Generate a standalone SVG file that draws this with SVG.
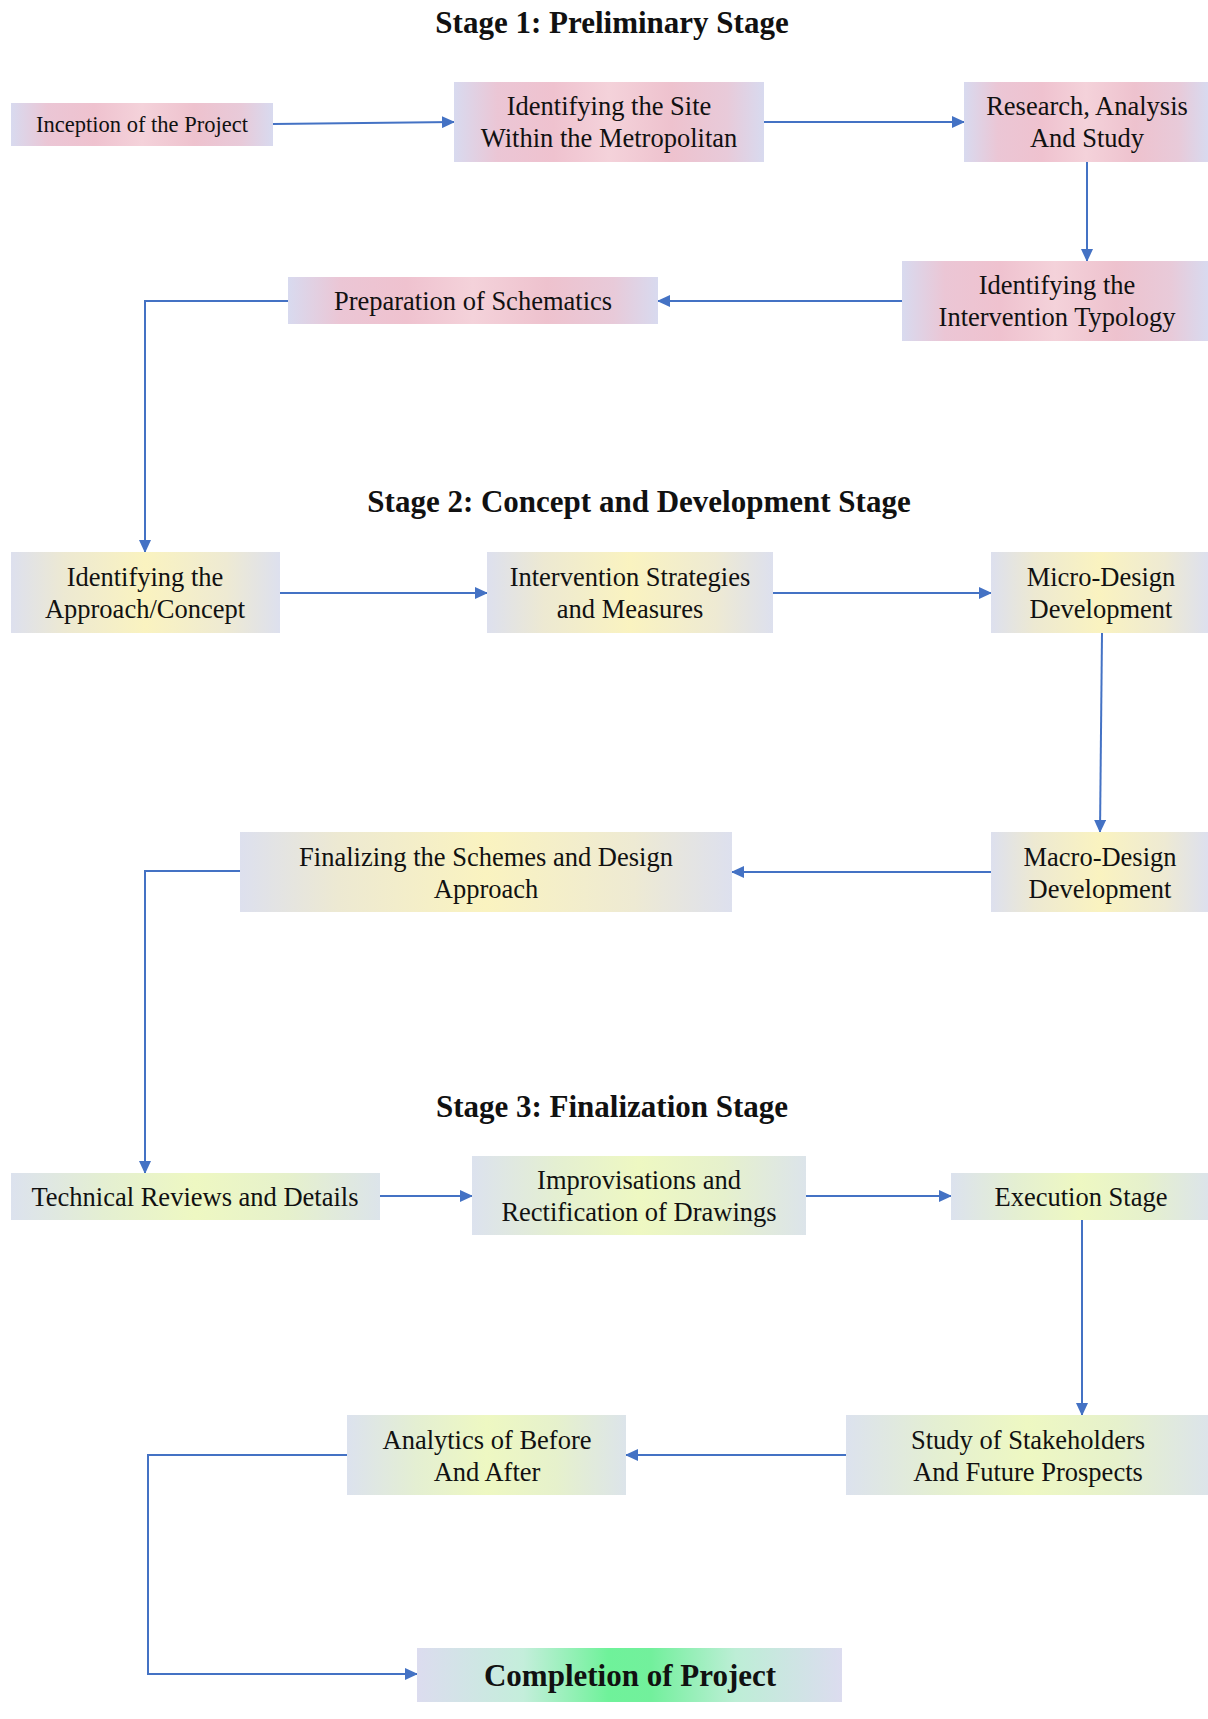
<svg xmlns="http://www.w3.org/2000/svg" width="1208" height="1719" viewBox="0 0 1208 1719">
<style>
text{font-family:"Liberation Serif","Times New Roman",serif;fill:#111;text-anchor:middle}
.t{font-size:26.5px}
.s{font-size:22.5px}
.h{font-size:31px;font-weight:bold}
.c{fill:none;stroke:#4472c4;stroke-width:2;marker-end:url(#ah)}
</style>
<defs>
<marker id="ah" markerUnits="userSpaceOnUse" markerWidth="13" markerHeight="12" refX="12" refY="6" orient="auto">
<path d="M0,0 L13,6 L0,12 Z" fill="#4472c4"/>
</marker>
<linearGradient id="pink" x1="0" y1="0" x2="1" y2="0">
<stop offset="0" stop-color="#d8daef"/>
<stop offset="0.14" stop-color="#ebc6d5"/>
<stop offset="0.32" stop-color="#efc2cf"/>
<stop offset="0.5" stop-color="#f4d2da"/>
<stop offset="0.7" stop-color="#eec2ce"/>
<stop offset="0.88" stop-color="#e8cad9"/>
<stop offset="1" stop-color="#d8daef"/>
</linearGradient>
<linearGradient id="yel" x1="0" y1="0" x2="1" y2="0">
<stop offset="0" stop-color="#dde0ee"/>
<stop offset="0.2" stop-color="#ede9d2"/>
<stop offset="0.5" stop-color="#faf3c0"/>
<stop offset="0.8" stop-color="#eeead3"/>
<stop offset="1" stop-color="#dde0ee"/>
</linearGradient>
<linearGradient id="grn" x1="0" y1="0" x2="1" y2="0">
<stop offset="0" stop-color="#dce2ee"/>
<stop offset="0.25" stop-color="#e4efd2"/>
<stop offset="0.5" stop-color="#eef8c2"/>
<stop offset="0.75" stop-color="#e6f1cc"/>
<stop offset="1" stop-color="#dce4ea"/>
</linearGradient>
<linearGradient id="cmp" x1="0" y1="0" x2="1" y2="0">
<stop offset="0" stop-color="#dcdcef"/>
<stop offset="0.25" stop-color="#c4eedb"/>
<stop offset="0.45" stop-color="#6ff29a"/>
<stop offset="0.55" stop-color="#72f09c"/>
<stop offset="0.75" stop-color="#bdeed6"/>
<stop offset="1" stop-color="#dcdcef"/>
</linearGradient>
</defs>
<rect width="1208" height="1719" fill="#fff"/>

<g id="titles">
<text class="h" x="612" y="33">Stage 1: Preliminary Stage</text>
<text class="h" x="639" y="512">Stage 2: Concept and Development Stage</text>
<text class="h" x="612" y="1117">Stage 3: Finalization Stage</text>
</g>

<g id="connectors">
<path class="c" d="M273,124 L454,122"/>
<path class="c" d="M764,122 L964,122"/>
<path class="c" d="M1087,162 L1087,261"/>
<path class="c" d="M902,301 L658,301"/>
<path class="c" d="M288,301 L145,301 L145,552"/>
<path class="c" d="M280,593 L487,593"/>
<path class="c" d="M773,593 L991,593"/>
<path class="c" d="M1102,633 L1100,832"/>
<path class="c" d="M991,872 L732,872"/>
<path class="c" d="M240,871 L145,871 L145,1173"/>
<path class="c" d="M380,1196 L472,1196"/>
<path class="c" d="M806,1196 L951,1196"/>
<path class="c" d="M1082,1220 L1082,1415"/>
<path class="c" d="M846,1455 L626,1455"/>
<path class="c" d="M347,1455 L148,1455 L148,1674 L417,1674"/>
</g>

<g id="n1"><rect x="11" y="103" width="262" height="43" fill="url(#pink)"/><text class="s" x="142" y="132">Inception of the Project</text></g>
<g id="n2"><rect x="454" y="82" width="310" height="80" fill="url(#pink)"/><text class="t" x="609" y="115">Identifying the Site</text><text class="t" x="609" y="147">Within the Metropolitan</text></g>
<g id="n3"><rect x="964" y="82" width="244" height="80" fill="url(#pink)"/><text class="t" x="1087" y="115">Research, Analysis</text><text class="t" x="1087" y="147">And Study</text></g>
<g id="n4"><rect x="902" y="261" width="306" height="80" fill="url(#pink)"/><text class="t" x="1057" y="294">Identifying the</text><text class="t" x="1057" y="326">Intervention Typology</text></g>
<g id="n5"><rect x="288" y="277" width="370" height="47" fill="url(#pink)"/><text class="t" x="473" y="310">Preparation of Schematics</text></g>

<g id="n6"><rect x="11" y="552" width="269" height="81" fill="url(#yel)"/><text class="t" x="145" y="586">Identifying the</text><text class="t" x="145" y="618">Approach/Concept</text></g>
<g id="n7"><rect x="487" y="552" width="286" height="81" fill="url(#yel)"/><text class="t" x="630" y="586">Intervention Strategies</text><text class="t" x="630" y="618">and Measures</text></g>
<g id="n8"><rect x="991" y="552" width="217" height="81" fill="url(#yel)"/><text class="t" x="1101" y="586">Micro-Design</text><text class="t" x="1101" y="618">Development</text></g>
<g id="n9"><rect x="991" y="832" width="217" height="80" fill="url(#yel)"/><text class="t" x="1100" y="866">Macro-Design</text><text class="t" x="1100" y="898">Development</text></g>
<g id="n10"><rect x="240" y="832" width="492" height="80" fill="url(#yel)"/><text class="t" x="486" y="866">Finalizing the Schemes and Design</text><text class="t" x="486" y="898">Approach</text></g>

<g id="n11"><rect x="11" y="1173" width="369" height="47" fill="url(#grn)"/><text class="t" x="195" y="1206">Technical Reviews and Details</text></g>
<g id="n12"><rect x="472" y="1156" width="334" height="79" fill="url(#grn)"/><text class="t" x="639" y="1189">Improvisations and</text><text class="t" x="639" y="1221">Rectification of Drawings</text></g>
<g id="n13"><rect x="951" y="1173" width="257" height="47" fill="url(#grn)"/><text class="t" x="1081" y="1206">Execution Stage</text></g>
<g id="n14"><rect x="846" y="1415" width="362" height="80" fill="url(#grn)"/><text class="t" x="1028" y="1449">Study of Stakeholders</text><text class="t" x="1028" y="1481">And Future Prospects</text></g>
<g id="n15"><rect x="347" y="1415" width="279" height="80" fill="url(#grn)"/><text class="t" x="487" y="1449">Analytics of Before</text><text class="t" x="487" y="1481">And After</text></g>
<g id="n16"><rect x="417" y="1648" width="425" height="54" fill="url(#cmp)"/><text class="h" x="630" y="1686">Completion of Project</text></g>
</svg>
